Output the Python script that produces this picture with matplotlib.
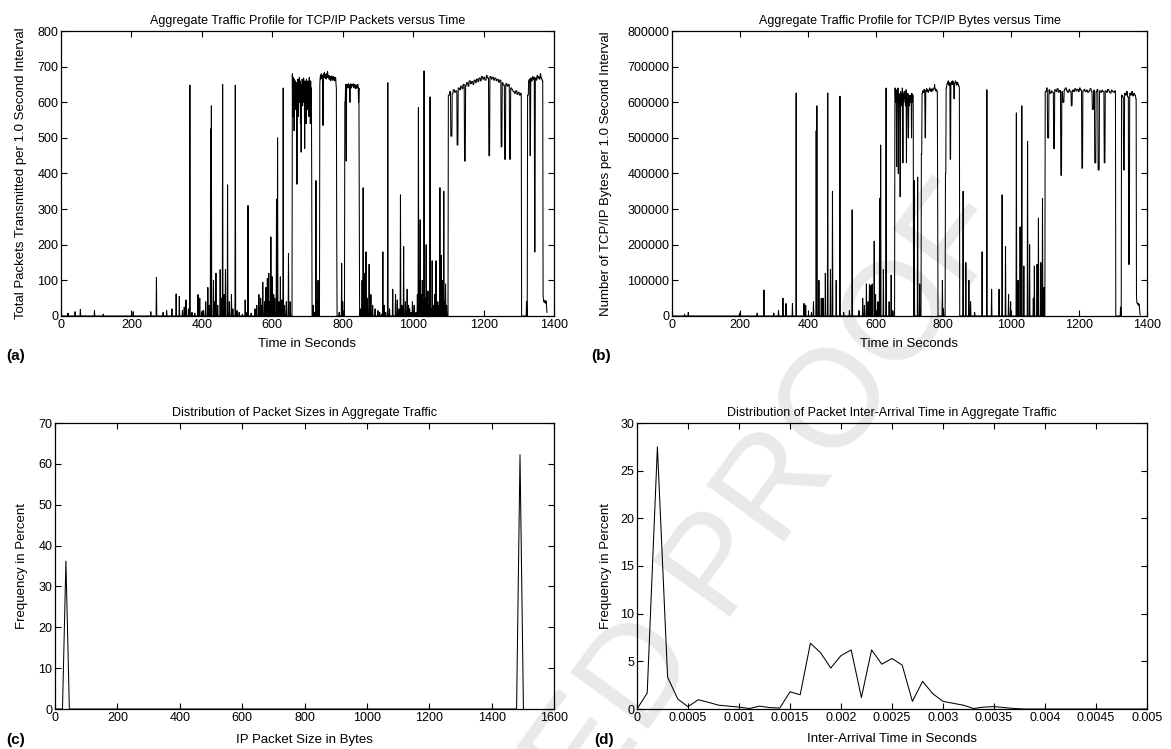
import numpy as np
import matplotlib
matplotlib.use("Agg")
import matplotlib.pyplot as plt

plt.rcParams['font.family'] = ['Liberation Sans', 'DejaVu Sans']

# ---------------- data ----------------
T_END = 1381  # seconds in trace

# (a) packets per second: plateau segments (start, end, values) and single-second events (t, value)
pk_plateaus = [
    (657, 712, [680, 560, 670, 600, 650, 520, 665, 610, 660, 580, 640, 600, 655, 370, 640, 590,
                665, 560, 650, 620, 670, 600, 660, 540, 640, 460, 650, 600, 665, 590, 655, 610,
                668, 600, 640, 470, 660, 620, 650, 540, 665, 600, 640, 580, 660, 610, 650, 560,
                670, 620, 655, 540, 660, 600, 640]),
    (735, 784, [650, 670, 675, 665, 680, 672, 668, 676, 660, 535, 672, 680, 670, 684, 675, 668,
                678, 672, 665, 680, 674, 670, 686, 672, 668, 676, 670, 664, 674, 668, 672, 660,
                670, 666, 674, 668, 662, 670, 665, 672, 668, 660, 666, 670, 662, 668, 650, 640, 220]),
    (806, 848, [600, 640, 650, 435, 645, 650, 648, 640, 652, 645, 650, 642, 600, 648, 652, 645,
                640, 650, 646, 648, 652, 644, 640, 648, 650, 645, 638, 642, 648, 640, 645, 650,
                640, 600, 640, 360]),
    (1100, 1308, [620, 630, 505, 625, 635, 628, 632, 480, 640, 635, 645, 638, 650, 435, 648, 655,
                  645, 660, 652, 658, 650, 662, 655, 665, 658, 668, 660, 672, 665, 670, 662, 675,
                  668, 450, 672, 665, 670, 662, 668, 660, 664, 656, 662, 475, 655, 648, 440, 652,
                  645, 650, 440, 640, 635, 630, 625, 632, 622, 628, 620, 625]),
    (1325, 1369, [620, 660, 665, 450, 668, 660, 672, 665, 670, 180, 668, 662, 675, 668, 672, 665,
                  680, 670, 665, 660]),
    (1369, 1381, [60, 45, 40, 42, 38, 44, 40, 36, 42, 40, 25, 10]),
]
pk_events = [
    (20, 8), (40, 12), (55, 18), (95, 15), (120, 5), (205, 12), (255, 12), (271, 108), (290, 10),
    (300, 15), (315, 20), (327, 62), (336, 55), (345, 15), (350, 25), (355, 45), (362, 20),
    (366, 648), (372, 10), (380, 8), (389, 60), (394, 50), (400, 12), (405, 15), (411, 40),
    (417, 80), (421, 30), (425, 525), (427, 590), (433, 100), (437, 40), (440, 120), (445, 30),
    (452, 130), (456, 50), (459, 650), (463, 60), (467, 130), (473, 368), (478, 40), (484, 60),
    (488, 20), (495, 648), (500, 15), (506, 10), (515, 5), (523, 45), (528, 10), (531, 310),
    (540, 8), (551, 20), (556, 30), (562, 60), (567, 50), (570, 30), (573, 95), (578, 40),
    (582, 80), (586, 105), (590, 120), (593, 40), (596, 222), (600, 110), (604, 60), (607, 50),
    (612, 328), (615, 500), (619, 40), (623, 110), (627, 45), (631, 640), (635, 30), (640, 40),
    (646, 175), (651, 40), (712, 375), (716, 30), (720, 10), (724, 380), (727, 40), (730, 100),
    (733, 20), (790, 10), (797, 148), (800, 40), (851, 20), (855, 100), (858, 360), (862, 120),
    (866, 180), (870, 50), (875, 145), (880, 60), (885, 30), (892, 20), (900, 15), (905, 10),
    (910, 5), (914, 180), (918, 30), (922, 10), (928, 655), (933, 20), (942, 75), (950, 60),
    (955, 45), (960, 20), (964, 340), (968, 30), (973, 195), (978, 40), (983, 75), (987, 30),
    (990, 20), (994, 10), (998, 40), (1003, 30), (1008, 10), (1012, 60), (1015, 585), (1018, 100),
    (1020, 270), (1023, 60), (1026, 100), (1029, 40), (1031, 688), (1034, 50), (1037, 200),
    (1040, 20), (1042, 70), (1045, 30), (1048, 615), (1051, 20), (1054, 155), (1057, 30),
    (1061, 60), (1065, 155), (1068, 20), (1070, 40), (1073, 30), (1076, 360), (1078, 50),
    (1080, 170), (1083, 100), (1087, 350), (1090, 40), (1092, 90), (1095, 30), (1322, 40),
]

# (b) bytes per second
by_plateaus = [
    (657, 712, [640000, 600000, 635000, 420000, 630000, 610000, 640000, 400000, 625000, 600000,
                620000, 335000, 630000, 590000, 620000, 600000, 640000, 430000, 625000, 600000,
                630000, 610000, 620000, 590000, 635000, 430000, 615000, 600000, 625000, 500000,
                620000, 590000, 610000, 620000, 600000, 615000, 500000, 625000, 600000, 620000,
                590000]),
    (735, 784, [455000, 625000, 632000, 628000, 636000, 630000, 500000, 632000, 638000, 630000,
                635000, 628000, 633000, 640000, 636000, 630000, 634000, 638000, 632000, 636000,
                640000, 650000, 638000, 632000, 636000, 630000, 300000]),
    (806, 848, [400000, 640000, 650000, 655000, 660000, 648000, 655000, 440000, 652000, 658000,
                650000, 660000, 655000, 610000, 652000, 660000, 655000, 648000, 656000, 650000,
                645000, 640000]),
    (1100, 1308, [630000, 640000, 500000, 635000, 625000, 632000, 628000, 470000, 635000, 630000,
                  638000, 628000, 633000, 395000, 630000, 600000, 635000, 640000, 632000, 628000,
                  636000, 630000, 590000, 634000, 630000, 638000, 632000, 636000, 630000, 640000,
                  634000, 415000, 632000, 636000, 630000, 634000, 628000, 632000, 638000, 630000,
                  580000, 634000, 430000, 630000, 636000, 410000, 632000, 628000, 634000, 630000,
                  430000, 632000, 628000, 636000, 630000, 626000, 634000, 630000, 628000, 632000]),
    (1325, 1369, [620000, 615000, 410000, 625000, 620000, 630000, 615000, 145000, 625000, 620000,
                  630000, 618000, 625000, 620000, 610000]),
    (1369, 1381, [55000, 40000, 35000, 36000, 33000, 35000, 30000, 34000, 32000, 20000, 10000, 3000]),
]
by_events = [
    (37, 5000), (48, 10000), (199, 8000), (251, 8000), (271, 73000), (300, 8000), (314, 15000),
    (327, 50000), (336, 35000), (355, 35000), (366, 626000), (389, 35000), (394, 30000),
    (411, 10000), (417, 40000), (425, 520000), (427, 590000), (433, 100000), (440, 50000),
    (445, 50000), (452, 120000), (459, 626000), (467, 130000), (473, 350000), (484, 100000),
    (495, 617000), (506, 10000), (523, 15000), (531, 298000), (551, 15000), (562, 50000),
    (567, 30000), (573, 90000), (578, 40000), (582, 88000), (586, 85000), (590, 90000),
    (596, 210000), (600, 60000), (607, 40000), (612, 330000), (615, 480000), (623, 130000),
    (631, 640000), (640, 40000), (646, 115000), (651, 15000), (712, 35000), (714, 380000),
    (724, 390000), (730, 90000), (797, 100000), (800, 20000), (858, 350000), (866, 150000),
    (875, 100000), (880, 40000), (892, 10000), (914, 180000), (928, 635000), (942, 75000),
    (964, 75000), (973, 340000), (983, 195000), (992, 60000), (998, 40000), (1015, 570000),
    (1020, 100000), (1026, 250000), (1031, 590000), (1037, 140000), (1048, 490000),
    (1054, 200000), (1065, 50000), (1068, 140000), (1076, 145000), (1080, 275000),
    (1087, 150000), (1092, 330000), (1096, 80000), (1322, 25000),
]

# (c) packet size distribution
pkt_size = [0, 24, 35, 46, 1480, 1491, 1502]
pkt_size_freq = [0, 0, 36.2, 0, 0, 62.2, 0]

# (d) inter-arrival time distribution
iat = [0.0000, 0.0001, 0.0002, 0.0003, 0.0004, 0.0005, 0.0006, 0.0007, 0.0008, 0.0009,
       0.0010, 0.0011, 0.0012, 0.0013, 0.0014, 0.0015, 0.0016, 0.0017, 0.0018, 0.0019,
       0.0020, 0.0021, 0.0022, 0.0023, 0.0024, 0.0025, 0.0026, 0.0027, 0.0028, 0.0029,
       0.0030, 0.0031, 0.0032, 0.0033, 0.0034, 0.0035, 0.0036, 0.0037, 0.0038, 0.0040,
       0.0045, 0.0050]
iat_freq = [0.0, 1.67, 27.5, 3.34, 1.04, 0.24, 0.97, 0.7, 0.4, 0.3,
            0.2, 0.05, 0.3, 0.15, 0.1, 1.8, 1.5, 6.9, 5.9, 4.3,
            5.6, 6.2, 1.2, 6.2, 4.7, 5.3, 4.6, 0.8, 2.9, 1.6,
            0.8, 0.6, 0.4, 0.05, 0.2, 0.25, 0.15, 0.05, 0.0, 0.0,
            0.0, 0.0]

ticks_a = [0, 200, 400, 600, 800, 1000, 1200, 1400]
yticks_a = [0, 100, 200, 300, 400, 500, 600, 700, 800]
yticks_b = [0, 100000, 200000, 300000, 400000, 500000, 600000, 700000, 800000]
ticks_c = [0, 200, 400, 600, 800, 1000, 1200, 1400, 1600]
yticks_c = [0, 10, 20, 30, 40, 50, 60, 70]
ticks_d = [0, 0.0005, 0.001, 0.0015, 0.002, 0.0025, 0.003, 0.0035, 0.004, 0.0045, 0.005]
tick_labels_d = ['0', '0.0005', '0.001', '0.0015', '0.002', '0.0025', '0.003', '0.0035',
                 '0.004', '0.0045', '0.005']
yticks_d = [0, 5, 10, 15, 20, 25, 30]


def build(plateaus, events):
    y = np.zeros(T_END)
    for start, end, vals in plateaus:
        n = len(vals)
        for s in range(start, end):
            y[s] = vals[int((s - start) * n / (end - start))]
    for t, v in events:
        y[t] = v
    return y


seconds = np.arange(T_END)
packets = build(pk_plateaus, pk_events)
bytes_ = build(by_plateaus, by_events)

# ---------------- figure ----------------
W, H = 1171, 749
fig = plt.figure(figsize=(W / 100, H / 100), dpi=100)


def px_axes(x0, y0, x1, y1):
    return fig.add_axes([x0 / W, 1 - y1 / H, (x1 - x0) / W, (y1 - y0) / H])


FS = 9
LFS = 9.5
LW = 0.75


def style(ax):
    ax.set_facecolor('none')
    for s in ax.spines.values():
        s.set_linewidth(0.9)
    ax.tick_params(direction='in', top=True, right=True, length=4, width=0.8,
                   labelsize=FS, pad=2)


ax_a = px_axes(61, 31, 554, 316)
ax_b = px_axes(672, 31, 1147, 316)
ax_c = px_axes(55, 423, 554, 709)
ax_d = px_axes(637, 423, 1147, 709)

# (a)
ax_a.plot(seconds, packets, color='black', lw=LW)
ax_a.set_xlim(0, 1400)
ax_a.set_ylim(0, 800)
ax_a.set_xticks(ticks_a)
ax_a.set_yticks(yticks_a)
ax_a.set_title('Aggregate Traffic Profile for TCP/IP Packets versus Time', fontsize=FS, pad=5)
ax_a.set_xlabel('Time in Seconds', fontsize=LFS, labelpad=5)
ax_a.set_ylabel('Total Packets Transmitted per 1.0 Second Interval', fontsize=LFS, labelpad=7)
style(ax_a)

# (b)
ax_b.plot(seconds, bytes_, color='black', lw=LW)
ax_b.set_xlim(0, 1400)
ax_b.set_ylim(0, 800000)
ax_b.set_xticks(ticks_a)
ax_b.set_yticks(yticks_b)
ax_b.set_yticklabels([str(v) for v in yticks_b])
ax_b.set_title('Aggregate Traffic Profile for TCP/IP Bytes versus Time', fontsize=FS, pad=5)
ax_b.set_xlabel('Time in Seconds', fontsize=LFS, labelpad=5)
ax_b.set_ylabel('Number of TCP/IP Bytes per 1.0 Second Interval', fontsize=LFS, labelpad=11)
style(ax_b)

# (c)
ax_c.plot(pkt_size, pkt_size_freq, color='black', lw=LW)
ax_c.set_xlim(0, 1600)
ax_c.set_ylim(0, 70)
ax_c.set_xticks(ticks_c)
ax_c.set_yticks(yticks_c)
ax_c.set_title('Distribution of Packet Sizes in Aggregate Traffic', fontsize=FS, pad=5)
ax_c.set_xlabel('IP Packet Size in Bytes', fontsize=LFS, labelpad=7)
ax_c.set_ylabel('Frequency in Percent', fontsize=LFS, labelpad=7)
style(ax_c)

# (d)
ax_d.plot(iat, iat_freq, color='black', lw=LW)
ax_d.set_xlim(0, 0.005)
ax_d.set_ylim(0, 30)
ax_d.set_xticks(ticks_d)
ax_d.set_xticklabels(tick_labels_d)
ax_d.set_yticks(yticks_d)
ax_d.set_title('Distribution of Packet Inter-Arrival Time in Aggregate Traffic', fontsize=FS, pad=5)
ax_d.set_xlabel('Inter-Arrival Time in Seconds', fontsize=LFS, labelpad=7)
ax_d.set_ylabel('Frequency in Percent', fontsize=LFS, labelpad=6)
style(ax_d)

# panel letters
for lbl, x, y in [('(a)', 6, 356), ('(b)', 591, 356), ('(c)', 6, 740), ('(d)', 594, 740)]:
    fig.text(x / W, 1 - y / H, lbl, fontsize=11, fontweight='bold', ha='left', va='center')

# watermark
fig.text(985 / W, 1 - 205 / H, 'UNCORRECTED PROOF', rotation=54, rotation_mode='anchor',
         ha='right', va='center', fontsize=100, color='#e9e9e9', zorder=-5)

fig.savefig('out.png', dpi=100)
